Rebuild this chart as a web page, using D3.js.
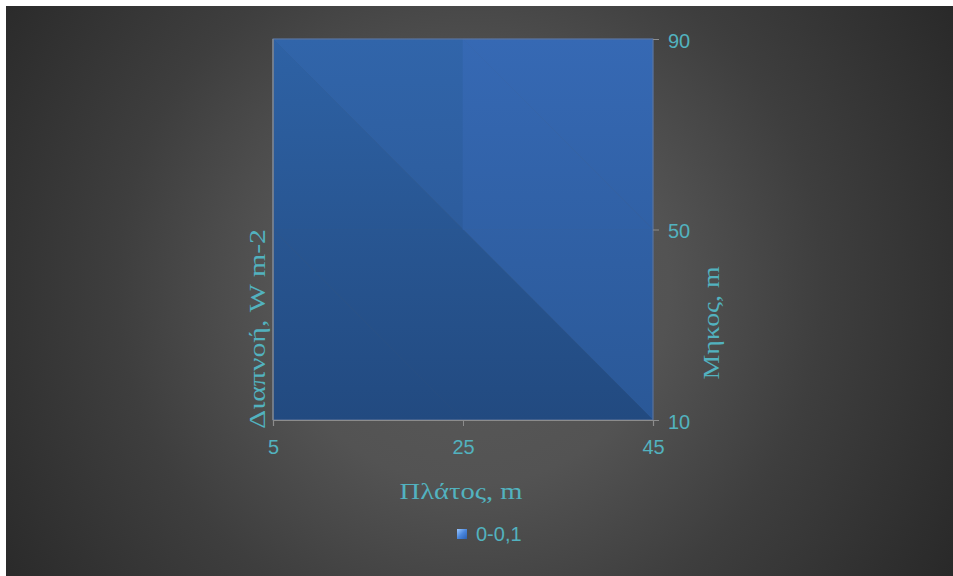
<!DOCTYPE html>
<html>
<head>
<meta charset="utf-8">
<script src="https://cdn.jsdelivr.net/npm/d3@7"></script>
<style>
  html, body { margin: 0; padding: 0; background: #ffffff; overflow: hidden; }
  svg { display: block; }
</style>
</head>
<body>
<div id="chart"></div>
<script>
// Surface grid: width (x) and length (y) sample positions, in metres
const widths = [5, 25, 45];
const lengths = [10, 50, 90];
// Transpiration values, rows follow `lengths`, columns follow `widths`
const transpiration = [
  [0.020, 0.030, 0.040],
  [0.030, 0.045, 0.060],
  [0.040, 0.060, 0.080]
];
const bandLabels = ["0-0,1"];
const xTicks = [5, 25, 45];
const yTicks = [10, 50, 90];

const W = 953, H = 576;
const plot = { left: 273, right: 653, top: 39, bottom: 420 };

const svg = d3.select("#chart").append("svg")
  .attr("width", W).attr("height", H);

const defs = svg.append("defs");

// Dark radial backdrop
const bg = defs.append("radialGradient").attr("id", "bg")
  .attr("gradientUnits", "userSpaceOnUse")
  .attr("cx", 470).attr("cy", 285).attr("r", 570);
[[0, "#5b5b5b"], [0.35, "#535353"], [0.62, "#3e3e3e"], [1, "#282828"]]
  .forEach(([o, c]) => bg.append("stop").attr("offset", o).attr("stop-color", c));

svg.append("rect").attr("x", 6).attr("y", 6)
  .attr("width", W - 6).attr("height", H - 6).attr("fill", "url(#bg)");

const x = d3.scaleLinear().domain(d3.extent(widths)).range([plot.left, plot.right]);
const y = d3.scaleLinear().domain(d3.extent(lengths)).range([plot.bottom, plot.top]);

// Facet shading tones (vertical gradients across the plot)
const tones = {
  dark:  ["#2e62a5", "#224a80"],
  mid:   ["#3165aa", "#28538f"],
  light: ["#3669b4", "#2a5897"]
};
Object.entries(tones).forEach(([k, [t, b]]) => {
  const g = defs.append("linearGradient").attr("id", "tone-" + k)
    .attr("gradientUnits", "userSpaceOnUse")
    .attr("x1", 0).attr("x2", 0).attr("y1", plot.top).attr("y2", plot.bottom);
  g.append("stop").attr("offset", 0).attr("stop-color", t);
  g.append("stop").attr("offset", 1).attr("stop-color", b);
});

// Build triangles for each grid cell; the diagonal runs from the cell's
// upper-left corner to its lower-right corner on screen.
const facets = [];
for (let j = 0; j < lengths.length - 1; j++) {
  for (let i = 0; i < widths.length - 1; i++) {
    const x0 = widths[i], x1 = widths[i + 1];
    const yLo = lengths[j], yHi = lengths[j + 1];
    const z = transpiration;
    facets.push({
      pts: [[x0, yHi], [x1, yHi], [x1, yLo]],
      zs: [z[j + 1][i], z[j + 1][i + 1], z[j][i + 1]], cell: [i, j], part: "upper"
    });
    facets.push({
      pts: [[x0, yHi], [x1, yLo], [x0, yLo]],
      zs: [z[j + 1][i], z[j][i + 1], z[j][i]], cell: [i, j], part: "lower"
    });
  }
}

// Lighting per facet: facets right of the main diagonal catch more light
function toneFor(f) {
  const [i, j] = f.cell;
  if (i === 1 && j === 1) return "light";          // far-width, far-length cell
  if (i === 0 && j === 0) return "dark";           // near cell
  if (i === 1 && j === 0) return f.part === "upper" ? "light" : "dark";
  return f.part === "upper" ? "mid" : "dark";      // i === 0, j === 1
}

const line = d3.line().x(d => x(d[0])).y(d => y(d[1]));

svg.append("g").selectAll("path").data(facets).join("path")
  .attr("d", d => line(d.pts) + "Z")
  .attr("fill", d => "url(#tone-" + toneFor(d) + ")")
  .attr("stroke", d => "url(#tone-" + toneFor(d) + ")")
  .attr("stroke-width", 0.6);

// Frame lines
const axisColor = "#8c8c8c";
svg.append("rect")
  .attr("x", plot.left).attr("y", plot.top)
  .attr("width", plot.right - plot.left).attr("height", plot.bottom - plot.top)
  .attr("fill", "none").attr("stroke", "#63779a").attr("stroke-width", 1);
svg.append("line")
  .attr("x1", plot.left).attr("x2", plot.left)
  .attr("y1", plot.top).attr("y2", plot.bottom)
  .attr("stroke", axisColor).attr("stroke-width", 1.2);

const textColor = "#52b2bf";
const sans = "Liberation Sans, Arial, sans-serif";

// Bottom axis (width)
const xAxis = svg.append("g")
  .attr("transform", `translate(0,${plot.bottom})`)
  .call(d3.axisBottom(x).tickValues(xTicks).tickSize(6).tickPadding(14).tickFormat(d3.format("d")));
xAxis.select(".domain").attr("stroke", axisColor).attr("stroke-width", 1.2);
xAxis.selectAll(".tick line").attr("stroke", axisColor);
xAxis.selectAll(".tick text")
  .attr("fill", textColor).attr("font-family", sans).attr("font-size", 20);

// Right axis (length)
const yAxis = svg.append("g")
  .attr("transform", `translate(${plot.right},0)`)
  .call(d3.axisRight(y).tickValues(yTicks).tickSize(6).tickPadding(9).tickFormat(d3.format("d")));
yAxis.select(".domain").remove();
yAxis.selectAll(".tick line").attr("stroke", axisColor);
yAxis.selectAll(".tick text")
  .attr("fill", textColor).attr("font-family", sans).attr("font-size", 20)
  .attr("dy", "0.4em");

// Axis titles
const serif = "Liberation Serif, Times New Roman, serif";
function title(transform, label, len) {
  svg.append("text")
    .attr("transform", transform)
    .attr("text-anchor", "middle")
    .attr("fill", textColor).attr("font-family", serif).attr("font-size", 24)
    .attr("textLength", len).attr("lengthAdjust", "spacingAndGlyphs")
    .text(label);
}
title("translate(461,499)", "Πλάτος, m", 123);
title("translate(265,329) rotate(-90)", "Διαπνοή, W m-2", 200);
title("translate(719,323) rotate(-90)", "Μηκος, m", 113);

// Legend
const legMark = defs.append("linearGradient").attr("id", "legmark")
  .attr("x1", 0).attr("y1", 0).attr("x2", 1).attr("y2", 1);
legMark.append("stop").attr("offset", 0).attr("stop-color", "#9cc8ff");
legMark.append("stop").attr("offset", 0.5).attr("stop-color", "#4a86dc");
legMark.append("stop").attr("offset", 1).attr("stop-color", "#2a5fb0");

const legend = svg.append("g").attr("transform", "translate(457,529)");
legend.selectAll("g").data(bandLabels).join("g")
  .each(function (d) {
    const g = d3.select(this);
    g.append("rect").attr("width", 10).attr("height", 10).attr("fill", "url(#legmark)");
    g.append("text").attr("x", 19).attr("y", 7).attr("dominant-baseline", "middle")
      .attr("fill", textColor).attr("font-family", sans)
      .attr("font-size", 20).text(d);
  });
</script>
</body>
</html>
